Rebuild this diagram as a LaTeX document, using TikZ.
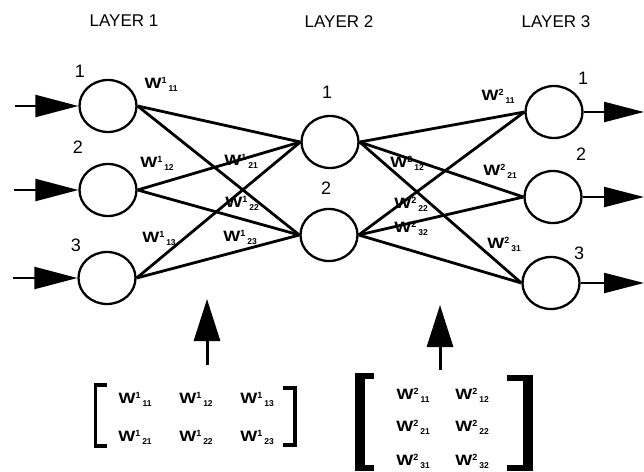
\documentclass[tikz,border=0pt]{standalone}
\usepackage{fontspec}
\usepackage{graphicx}
\setmainfont{Liberation Sans}
\usetikzlibrary{arrows.meta,shapes.geometric}
\newcommand{\wgt}[2]{{\fontsize{15}{15}\selectfont\bfseries\scalebox{1.2}[1]{W}\raisebox{5pt}{\fontsize{9}{9}\selectfont #1}\kern2pt\raisebox{-3pt}{\fontsize{8.5}{8.5}\selectfont #2}}}
\begin{document}
\begin{tikzpicture}[x=1pt,y=-1pt,
  neuron/.style={ellipse,draw,line width=2.3pt,minimum width=57pt,minimum height=52pt,inner sep=0pt},
  link/.style={line width=2.8pt},
  inarrow/.style={line width=2.2pt,-{Triangle[length=43pt,width=22pt]}},
  outarrow/.style={line width=2.2pt,-{Triangle[length=40pt,width=20pt]}},
  uparrow/.style={line width=3pt,-{Triangle[length=42pt,width=26pt]}},
  title/.style={inner sep=0pt,font=\fontsize{17}{17}\selectfont},
  num/.style={inner sep=0pt,font=\fontsize{18}{18}\selectfont},
  wlab/.style={inner sep=0pt},
]
\useasboundingbox (0,0) rectangle (644,471);
% titles
\node[title] (t1) at (124,21) {LAYER 1};
\node[title] (t2) at (339,22) {LAYER 2};
\node[title] (t3) at (556,22) {LAYER 3};
% neurons
\node[neuron] (a1) at (108,106) {};
\node[neuron] (a2) at (108,190) {};
\node[neuron] (a3) at (107,278) {};
\node[neuron] (b1) at (330,142) {};
\node[neuron] (b2) at (329,235) {};
\node[neuron] (c1) at (554,112) {};
\node[neuron] (c2) at (553,197) {};
\node[neuron] (c3) at (551,283) {};
% numbers
\node[num] (na1) at (80,71) {1};
\node[num] (na2) at (78,147) {2};
\node[num] (na3) at (76,245) {3};
\node[num] (nb1) at (327,92) {1};
\node[num] (nb2) at (326,188) {2};
\node[num] (nc1) at (583,78) {1};
\node[num] (nc2) at (581,154) {2};
\node[num] (nc3) at (579,253) {3};
% links layer 1 -> 2
\foreach \i in {1,2,3}{\foreach \j in {1,2}{\draw[link] (a\i.east) -- (b\j.west);}}
% links layer 2 -> 3
\foreach \i in {1,2}{\foreach \j in {1,2,3}{\draw[link] (b\i.east) -- (c\j.west);}}
% input / output arrows
\coordinate (i1) at (15,106);
\coordinate (i2) at (14,190);
\coordinate (i3) at (13,278);
\draw[inarrow] (i1) -- (a1.west);
\draw[inarrow] (i2) -- (a2.west);
\draw[inarrow] (i3) -- (a3.west);
\coordinate (o1) at (644,112);
\coordinate (o2) at (644,197);
\coordinate (o3) at (644,283);
\draw[outarrow] (c1.east) -- (o1);
\draw[outarrow] (c2.east) -- (o2);
\draw[outarrow] (c3.east) -- (o3);
% weight labels
\node[wlab] (w111) at (161,84) {\wgt{1}{11}};
\node[wlab] (w112) at (157,163) {\wgt{1}{12}};
\node[wlab] (w121) at (241,161) {\wgt{1}{21}};
\node[wlab] (w122) at (242,203) {\wgt{1}{22}};
\node[wlab] (w113) at (159,238) {\wgt{1}{13}};
\node[wlab] (w123) at (240,237) {\wgt{1}{23}};
\node[wlab] (w211) at (498,96) {\wgt{2}{11}};
\node[wlab] (w221) at (500,171) {\wgt{2}{21}};
\node[wlab] (w231) at (504,244) {\wgt{2}{31}};
\node[wlab] (w212) at (407,163) {\wgt{2}{12}};
\node[wlab] (w222) at (411,204) {\wgt{2}{22}};
\node[wlab] (w232) at (411,228) {\wgt{2}{32}};
% up arrows
\coordinate (u1) at (207,365);
\coordinate (h1) at (207,299);
\draw[uparrow] (u1) -- (h1);
\coordinate (u2) at (440,370);
\coordinate (h2) at (440,305);
\draw[uparrow] (u2) -- (h2);
% matrix 1
\node[wlab] (m111) at (135,399) {\wgt{1}{11}};
\node[wlab] (m112) at (196,399) {\wgt{1}{12}};
\node[wlab] (m113) at (257,399) {\wgt{1}{13}};
\node[wlab] (m121) at (135,437) {\wgt{1}{21}};
\node[wlab] (m122) at (196,437) {\wgt{1}{22}};
\node[wlab] (m123) at (257,437) {\wgt{1}{23}};
\draw[line width=3.5pt] (107,385) -- (95.5,385) -- (95.5,446) -- (107,446);
\draw[line width=3.5pt] (283,388) -- (295,388) -- (295,445) -- (283,445);
% matrix 2
\node[wlab] (m211) at (413,395) {\wgt{2}{11}};
\node[wlab] (m212) at (472,395) {\wgt{2}{12}};
\node[wlab] (m221) at (413,427) {\wgt{2}{21}};
\node[wlab] (m222) at (472,427) {\wgt{2}{22}};
\node[wlab] (m231) at (413,461) {\wgt{2}{31}};
\node[wlab] (m232) at (472,461) {\wgt{2}{32}};
\fill (355,373) rectangle (365,471);
\fill (355,373) rectangle (374,379);
\fill (355,465) rectangle (374,471);
\fill (523,375) rectangle (533,471);
\fill (507,375) rectangle (533,381);
\fill (507,465) rectangle (533,471);
\end{tikzpicture}
\end{document}
